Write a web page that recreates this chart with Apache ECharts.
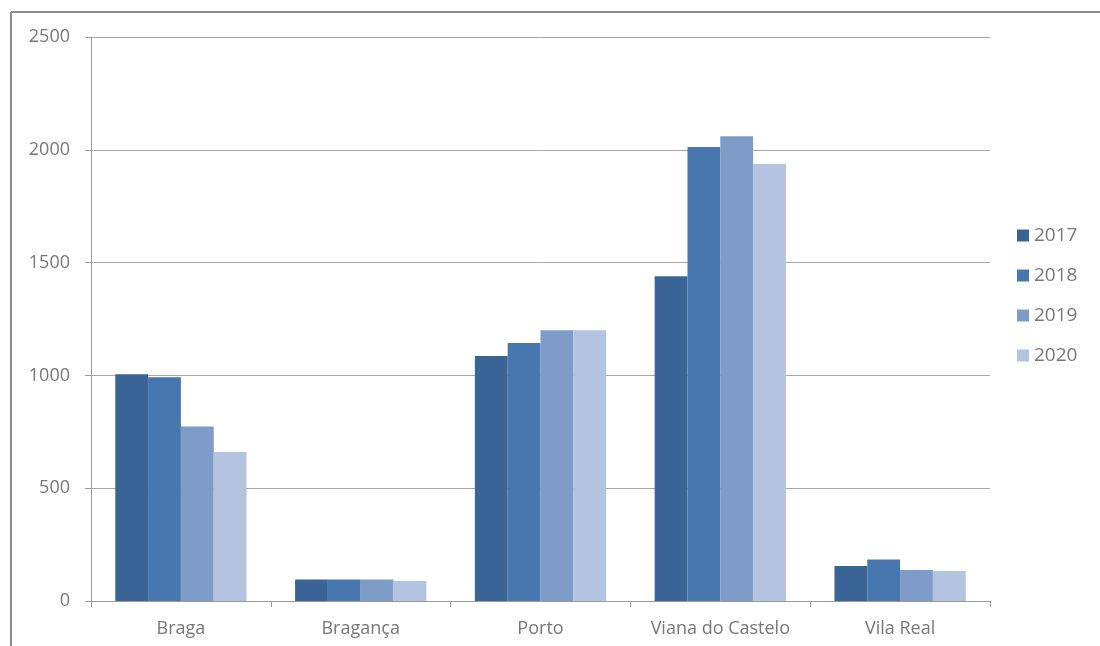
<!DOCTYPE html>
<html>
<head>
<meta charset="utf-8">
<script src="https://cdn.jsdelivr.net/npm/echarts@6/dist/echarts.min.js"></script>
<style>
  html, body { margin: 0; padding: 0; background: #fff; }
  #chart { width: 1100px; height: 646px; }
</style>
</head>
<body>
<div id="chart"></div>
<script>
var districts = ['Braga', 'Bragança', 'Porto', 'Viana do Castelo', 'Vila Real']
var years = ['2017', '2018', '2019', '2020']
var v2017 = [1005, 95, 1086, 1440, 155]
var v2018 = [992, 95, 1144, 2012, 184]
var v2019 = [773, 95, 1200, 2060, 137]
var v2020 = [660, 89, 1200, 1937, 133]
var colors = ['#3b6496', '#4877b0', '#7f9cc8', '#b4c3df']

var chart = echarts.init(document.getElementById('chart'))
var textColor = '#777777'
var font = '"Open Sans", "Noto Sans", sans-serif'

function bar (name, data, i) {
  return {
    name: name,
    type: 'bar',
    data: data,
    barGap: 0,
    barCategoryGap: '27%',
    itemStyle: { color: colors[i] },
    animation: false
  }
}

chart.setOption({
  textStyle: { fontFamily: font },
  graphic: [
    { type: 'line', shape: { x1: 11, y1: 12, x2: 1100, y2: 12 }, style: { stroke: '#8c8c8c', lineWidth: 2 } },
    { type: 'line', shape: { x1: 11, y1: 12, x2: 11, y2: 646 }, style: { stroke: '#8c8c8c', lineWidth: 2 } }
  ],
  grid: { left: 91, right: 110, top: 37, bottom: 45 },
  legend: {
    orient: 'vertical',
    left: 1012,
    top: 221,
    itemWidth: 12,
    itemHeight: 12,
    itemGap: 21,
    icon: 'rect',
    textStyle: { color: textColor, fontSize: 19, fontFamily: font },
    data: years
  },
  xAxis: {
    type: 'category',
    data: districts,
    axisLine: { lineStyle: { color: '#9a9a9a', width: 1 } },
    axisTick: { show: true, interval: 0, length: 6, lineStyle: { color: '#9a9a9a' } },
    axisLabel: { color: textColor, fontSize: 18, margin: 19, interval: 0 }
  },
  yAxis: {
    type: 'value',
    min: 0,
    max: 2500,
    interval: 500,
    axisLine: { show: true, lineStyle: { color: '#9a9a9a' } },
    axisTick: { show: true, length: 6, lineStyle: { color: '#9a9a9a' } },
    splitLine: { lineStyle: { color: '#a6a6a6' } },
    axisLabel: {
      color: textColor,
      fontSize: 18,
      margin: 21,
      formatter: function (value) { return String(value) }
    }
  },
  series: [
    bar('2017', v2017, 0),
    bar('2018', v2018, 1),
    bar('2019', v2019, 2),
    bar('2020', v2020, 3)
  ]
})
</script>
</body>
</html>
